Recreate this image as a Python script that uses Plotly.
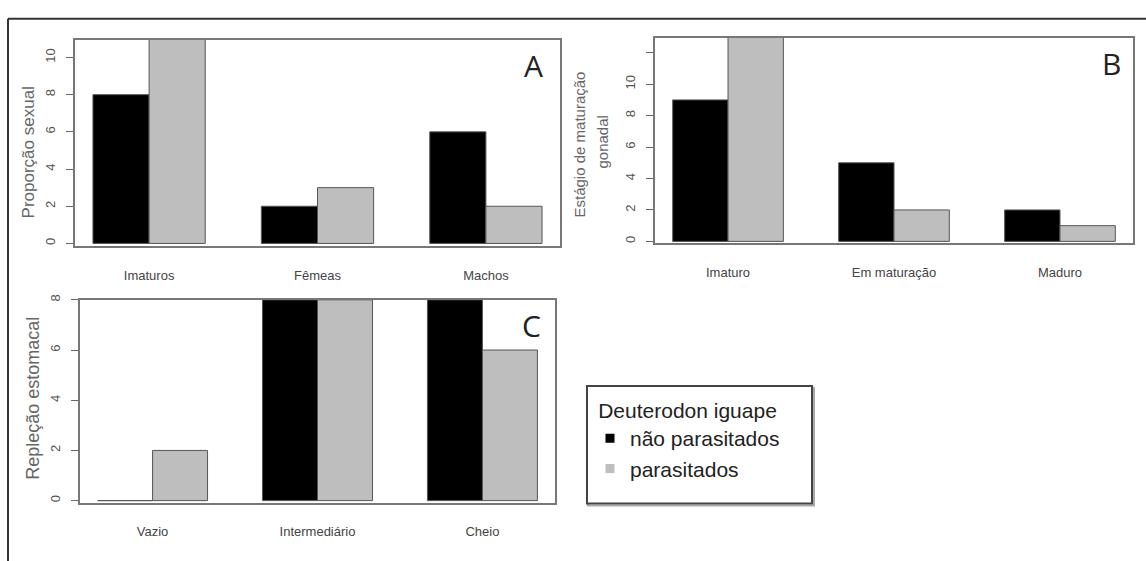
import plotly.graph_objects as go

# Data
cats_A = ["Imaturos", "Fêmeas", "Machos"]
nao_A = [8, 2, 6]
par_A = [11, 3, 2]

cats_B = ["Imaturo", "Em maturação", "Maduro"]
nao_B = [9, 5, 2]
par_B = [13, 2, 1]

cats_C = ["Vazio", "Intermediário", "Cheio"]
nao_C = [0, 8, 8]
par_C = [2, 8, 6]

yticks_A = [0, 2, 4, 6, 8, 10]
yticks_B = [0, 2, 4, 6, 8, 10, 12]
ytext_B = ["0", "2", "4", "6", "8", "10", ""]
yticks_C = [0, 2, 4, 6, 8]

series_names = ["não parasitados", "parasitados"]
legend_title = "Deuterodon iguape"

W, H = 1146, 561
BLACK = "#000000"
GRAY = "#bebebe"
EDGE = "#555555"
TXT = "#555555"
FONT = "Liberation Sans"
NARROW = "Liberation Sans Narrow, Liberation Sans"

fig = go.Figure()

panels = [
    (cats_A, nao_A, par_A, "x", "y"),
    (cats_B, nao_B, par_B, "x2", "y2"),
    (cats_C, nao_C, par_C, "x3", "y3"),
]
for cats, nao, par, xa, ya in panels:
    fig.add_trace(go.Bar(x=cats, y=nao, name=series_names[0], marker=dict(color=BLACK, line=dict(color=EDGE, width=1)),
                         xaxis=xa, yaxis=ya, showlegend=False))
    fig.add_trace(go.Bar(x=cats, y=par, name=series_names[1], marker=dict(color=GRAY, line=dict(color=EDGE, width=1)),
                         xaxis=xa, yaxis=ya, showlegend=False))

# legend entries (small square keys as in the original)
for nm, col in zip(series_names, [BLACK, GRAY]):
    fig.add_trace(go.Scatter(x=[None], y=[None], mode="markers", name=nm,
                             marker=dict(symbol="square", size=9, color=col, line=dict(width=0)),
                             xaxis="x3", yaxis="y3", showlegend=True))


def px_x(p):
    return p / W


def px_y(p):
    return 1 - p / H


xcommon = dict(range=[-0.44, 2.44], showline=True, mirror=True, linecolor="#777777", linewidth=1.5,
               showgrid=False, zeroline=False, ticks="", ticklabelstandoff=16,
               tickfont=dict(family=NARROW, size=13, color="#444444"), fixedrange=True)
ycommon = dict(showline=True, mirror=True, linecolor="#777777", linewidth=1.5, showgrid=False, zeroline=False,
               ticks="outside", ticklen=7, tickcolor="#666666", tickangle=-90, ticklabelstandoff=6,
               tickfont=dict(family=FONT, size=13, color=TXT), fixedrange=True)

fig.update_layout(
    width=W, height=H,
    margin=dict(l=0, r=0, t=0, b=0),
    paper_bgcolor="white", plot_bgcolor="white",
    barmode="group", bargap=1/3, bargroupgap=0,
    xaxis=dict(domain=[px_x(75), px_x(560)], anchor="y", **xcommon),
    yaxis=dict(domain=[px_y(243), px_y(34)], anchor="x", range=[-0.16, 10.96], tickvals=yticks_A, **ycommon),
    xaxis2=dict(domain=[px_x(655), px_x(1133)], anchor="y2", **xcommon),
    yaxis2=dict(domain=[px_y(240), px_y(32)], anchor="x2", range=[-0.13, 12.96], tickvals=yticks_B,
                ticktext=ytext_B, **ycommon),
    xaxis3=dict(domain=[px_x(80), px_x(555)], anchor="y3", **xcommon),
    yaxis3=dict(domain=[px_y(502), px_y(297)], anchor="x3", range=[-0.08, 8.0], tickvals=yticks_C, **ycommon),
    legend=dict(
        x=px_x(590), y=px_y(389), xanchor="left", yanchor="top",
        borderwidth=0, bgcolor="rgba(0,0,0,0)",
        font=dict(family=FONT, size=21, color="#222222"),
        title=dict(text=legend_title, side="top center", font=dict(family=FONT, size=21, color="#222222")),
        itemwidth=30, tracegroupgap=0,
    ),
    font=dict(family=FONT),
)

# legend frame
fig.add_shape(type="rect", xref="paper", yref="paper", x0=px_x(588), x1=px_x(814), y0=px_y(386), y1=px_y(505),
              line=dict(color="#aaaaaa", width=2), layer="below")
fig.add_shape(type="rect", xref="paper", yref="paper", x0=px_x(587), x1=px_x(812), y0=px_y(384), y1=px_y(503),
              line=dict(color="#444444", width=2), fillcolor="white", layer="below")

# axis titles
fig.add_annotation(text="Proporção sexual", xref="paper", yref="paper", x=px_x(28), y=px_y(148),
                   xanchor="center", yanchor="middle",
                   textangle=-90, showarrow=False, font=dict(family=FONT, size=17, color="#666666"))
fig.add_annotation(text="Estágio de maturação", xref="paper", yref="paper", x=px_x(580), y=px_y(140),
                   xanchor="center", yanchor="middle",
                   textangle=-90, showarrow=False, font=dict(family=FONT, size=15, color="#666666"))
fig.add_annotation(text="gonadal", xref="paper", yref="paper", x=px_x(603), y=px_y(138),
                   xanchor="center", yanchor="middle",
                   textangle=-90, showarrow=False, font=dict(family=FONT, size=15, color="#666666"))
fig.add_annotation(text="Repleção estomacal", xref="paper", yref="paper", x=px_x(33), y=px_y(397),
                   xanchor="center", yanchor="middle",
                   textangle=-90, showarrow=False, font=dict(family=FONT, size=18, color="#666666"))

# panel letters
for letter, xx, yy in [("A", 533, 60), ("B", 1111, 58), ("C", 531, 323)]:
    fig.add_annotation(text=letter, xref="paper", yref="paper", x=px_x(xx), y=px_y(yy), showarrow=False,
                       xanchor="center", yanchor="middle",
                       font=dict(family="Open Sans", size=30, color="#222222"))

# outer frame (top and left edges)
fig.add_shape(type="line", xref="paper", yref="paper", x0=px_x(8), x1=1.0, y0=px_y(13), y1=px_y(13),
              line=dict(color="#333333", width=2))
fig.add_shape(type="line", xref="paper", yref="paper", x0=px_x(8), x1=px_x(8), y0=px_y(13), y1=0,
              line=dict(color="#333333", width=2))

fig.write_html("out.html", config={"displayModeBar": False},
               post_script="document.body.style.margin='0';document.body.style.overflow='hidden';")
